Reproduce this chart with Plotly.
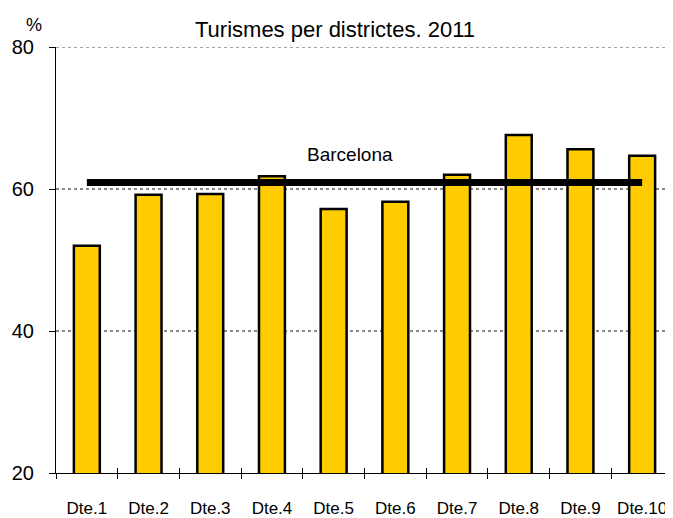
import plotly.graph_objects as go

districtes = ["Dte.1", "Dte.2", "Dte.3", "Dte.4", "Dte.5",
              "Dte.6", "Dte.7", "Dte.8", "Dte.9", "Dte.10"]
turismes = [52.0, 59.2, 59.3, 61.8, 57.2, 58.2, 62.0, 67.6, 65.6, 64.7]
barcelona = 60.9
y_ticks = [20, 40, 60, 80]

fig = go.Figure()

fig.add_trace(go.Bar(
    x=districtes, y=turismes, width=0.42,
    marker=dict(color="#FFCC00", line=dict(color="black", width=2.5)),
    showlegend=False,
))

# copy on a second x axis only to get ticks that cross the axis line
fig.add_trace(go.Bar(
    x=districtes, y=turismes, xaxis="x2", opacity=0,
    hoverinfo="skip", showlegend=False,
))

fig.add_trace(go.Scatter(
    x=[districtes[0], districtes[-1]], y=[barcelona, barcelona],
    mode="lines", line=dict(color="black", width=7),
    showlegend=False,
))

# top gridline (plotly drops the one sitting on the range edge)
fig.add_hline(y=y_ticks[-1], line=dict(color="#888888", dash="dot", width=1.5),
              layer="below")

fig.add_annotation(x=4.265, y=64.86, xref="x", yref="y", text="Barcelona",
                   showarrow=False, font=dict(size=19, color="black"))
fig.add_annotation(x=-0.0357, y=1.0514, xref="paper", yref="paper", text="%",
                   xanchor="center", yanchor="middle",
                   showarrow=False, font=dict(size=18, color="black"))

fig.update_layout(
    width=665, height=510,
    margin=dict(l=48, r=0, t=39, b=43),
    paper_bgcolor="white", plot_bgcolor="white",
    font=dict(family="Liberation Sans, Arial, sans-serif", color="black"),
    title=dict(text="Turismes per districtes. 2011", x=0.4917, xanchor="center",
               y=1 - 21.5 / 510, yanchor="middle", font=dict(size=22)),
    bargap=0.58,
    xaxis2=dict(overlaying="x", matches="x", side="bottom",
                ticks="inside", tickson="boundaries", ticklen=5,
                tickcolor="black", showticklabels=False, showline=False,
                showgrid=False),
)

fig.layout.xaxis.update(
    showline=True, linecolor="black", linewidth=1,
    ticks="outside", tickson="boundaries", ticklen=5, tickcolor="black",
    tickfont=dict(size=17), ticklabelstandoff=20, showgrid=False,
)
fig.update_yaxes(
    range=[20, 80], tickvals=y_ticks,
    showline=True, linecolor="black", linewidth=1,
    ticks="outside", ticklen=6, tickcolor="black",
    tickfont=dict(size=20), ticklabelstandoff=11,
    showgrid=True, gridcolor="#888888", griddash="dot", gridwidth=1.5,
    zeroline=False,
)

fig.write_html("out.html")
